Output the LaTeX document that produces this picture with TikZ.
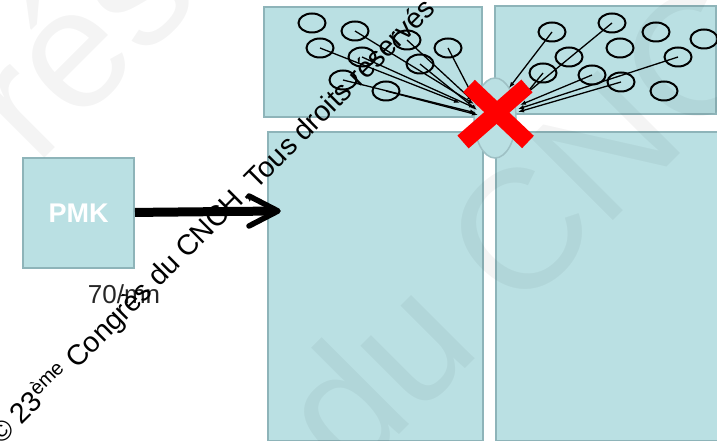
\documentclass[tikz,border=0pt]{standalone}
\usepackage{fontspec}
\setmainfont{Liberation Sans}
\usetikzlibrary{shapes.geometric,arrows.meta}
\definecolor{boxfill}{RGB}{186,224,227}
\definecolor{boxline}{RGB}{142,180,185}
\definecolor{ellline}{RGB}{158,192,196}
\definecolor{xred}{RGB}{255,0,0}
\begin{document}
\begin{tikzpicture}[x=1bp,y=-1bp,
  panel/.style={draw=boxline,line width=2bp,fill=boxfill,inner sep=0pt,anchor=north west},
  bubble/.style={ellipse,draw=black,line width=2bp,minimum width=27bp,minimum height=19bp,inner sep=0pt},
  feed/.style={line width=1.3bp,-{Latex[length=6bp,width=4.5bp]}},
  faint/.style={rotate=45,anchor=base west,inner sep=0pt,text opacity=0.045,font=\fontsize{170bp}{170bp}\selectfont},
]
\useasboundingbox (0,0) rectangle (717,441);
\clip (0,0) rectangle (717,441);
\fill[white] (0,0) rectangle (717,441);

% panels
\node[panel,minimum width=218bp,minimum height=110bp] (TL) at (263,6) {};
\node[panel,minimum width=221bp,minimum height=108bp] (TR) at (494,5) {};
\node[panel,minimum width=215bp,minimum height=309bp] (BL) at (267,131) {};
\node[panel,minimum width=235bp,minimum height=309bp] (BR) at (495,131) {};
\node[panel,anchor=center,minimum width=111bp,minimum height=110bp,text=white,font=\fontsize{27bp}{29bp}\selectfont\bfseries] (PMK) at (78.5,213) {PMK};

% junction
\node[ellipse,draw=ellline,fill=boxfill,line width=1.5bp,minimum width=42bp,minimum height=80bp,inner sep=0pt] (valve) at (495,118) {};

% faint background watermark
\node[faint] (wmA) at (36,167) {réservés};
\node[faint] (wmB) at (350,484) {du CNCH,};

% bubbles left
\node[bubble] (L1) at (312,23) {};
\node[bubble] (L2) at (355,31) {};
\node[bubble] (L3) at (320,48) {};
\node[bubble] (L4) at (407,40) {};
\node[bubble] (L5) at (448,48) {};
\node[bubble] (L6) at (362,57) {};
\node[bubble] (L7) at (420,64) {};
\node[bubble] (L8) at (343,80) {};
\node[bubble] (L9) at (386,91) {};
% bubbles right
\node[bubble] (R1) at (552,32) {};
\node[bubble] (R2) at (612,23) {};
\node[bubble] (R3) at (656,32) {};
\node[bubble] (R4) at (704,39) {};
\node[bubble] (R5) at (620,48) {};
\node[bubble] (R6) at (569,57) {};
\node[bubble] (R7) at (678,57) {};
\node[bubble] (R8) at (543,73) {};
\node[bubble] (R9) at (592,75) {};
\node[bubble] (R10) at (621,82) {};
\node[bubble] (R11) at (664,91) {};

% end points
\coordinate (eL2) at (474,104);
\coordinate (eL3) at (460,103);
\coordinate (eL4) at (473,101);
\coordinate (eL5) at (477,104);
\coordinate (eL6) at (475,108);
\coordinate (eL7) at (477,110);
\coordinate (eL8) at (476,113);
\coordinate (eL9) at (478,115);
\coordinate (eR1) at (509,88);
\coordinate (eR2) at (522,97);
\coordinate (eR8) at (520,101);
\coordinate (eR9) at (520,105);
\coordinate (eR7) at (518,109);
\coordinate (eR10) at (518,112);

\foreach \n in {2,3,4,5,6,7,8,9}{\draw[feed] (L\n.center) -- (eL\n);}
\foreach \n in {1,2,8,9,7,10}{\draw[feed] (R\n.center) -- (eR\n);}

% red cross
\coordinate (xa) at (469,86);
\coordinate (xb) at (528,142);
\coordinate (xc) at (527,86);
\coordinate (xd) at (463,142);
\draw[xred,line width=17bp] (xa) -- (xb);
\draw[xred,line width=17bp] (xc) -- (xd);

% main arrow
\coordinate (tip) at (278,211);
\draw[line width=9bp,shorten >=4bp] (PMK) -- (tip);
\draw[line width=5.5bp,line cap=round,line join=round] (tip) ++(-29,-15) -- (tip) -- ++(-29,15);

\node[anchor=base,inner sep=0pt,text=black!85,font=\fontsize{26bp}{28bp}\selectfont] (rate) at (124,304) {70/mn};

% watermark
\node[rotate=45,anchor=base west,inner sep=0pt,font=\fontsize{28.5bp}{30bp}\selectfont] (wm) at (1,446) {© 23\textsuperscript{ème} Congrès du CNCH, Tous droits réservés};
\end{tikzpicture}
\end{document}
